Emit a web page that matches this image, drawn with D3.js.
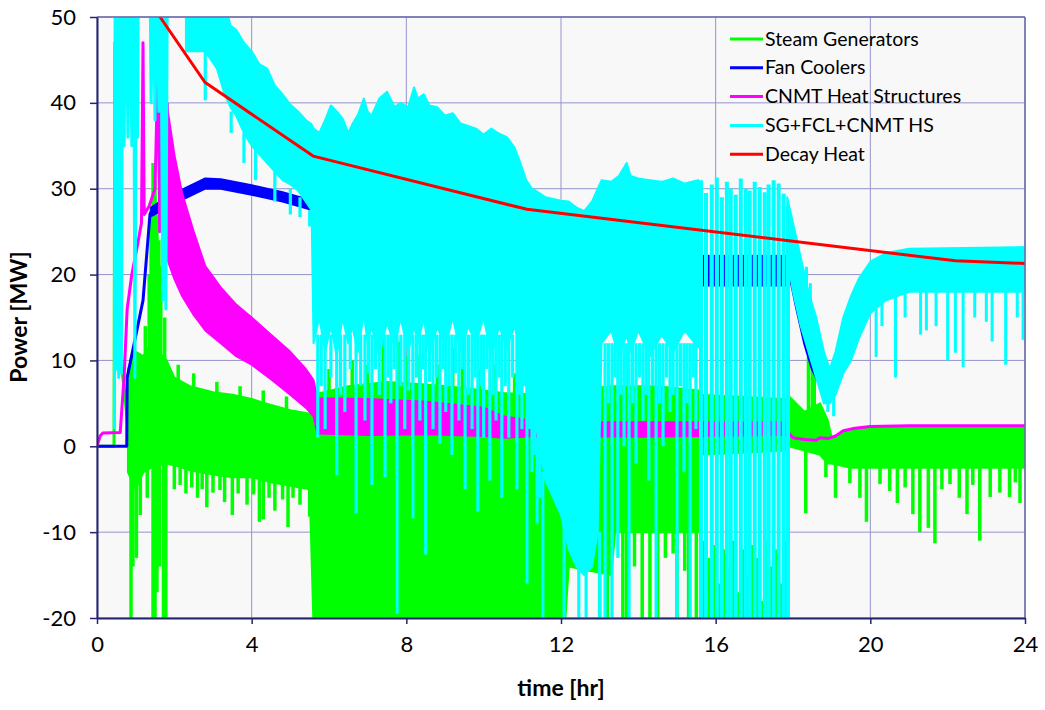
<!DOCTYPE html>
<html><head><meta charset="utf-8">
<script src="https://cdn.jsdelivr.net/npm/d3@7"></script>
<style>
body{margin:0;background:#fff;}
svg text{font-family:Lato,"Open Sans",sans-serif;fill:#000;}
</style></head>
<body><svg id="c" width="1045" height="710"></svg>
<script>
// ---------------- data ----------------
const timeTicks = [0, 4, 8, 12, 16, 20, 24];
const powerTicks = [-20, -10, 0, 10, 20, 30, 40, 50];
const seriesNames = ["Steam Generators", "Fan Coolers", "CNMT Heat Structures", "SG+FCL+CNMT HS", "Decay Heat"];

// Steam Generators (green)
const sgTrace = [[0,0],[0.44,0],[0.46,47],[0.48,9],[0.5,44],[0.52,9],[0.6,10],[0.7,7],[0.8,2]];
const sgBand = [[0.8,-3,9],[1.0,-5,11],[1.2,-3,10.5],[1.4,-2.5,12],[1.6,-2,11],[1.8,-2,10],[2.0,-2.2,8],[2.4,-2.8,7],[3.0,-3.3,6.3],[3.5,-3.6,6],[4.0,-3.6,5.5],[4.5,-4.2,4.8],[5.0,-4.6,4.2],[5.5,-5,3.8],[5.6,-21,6],[6.5,-21,7],[7.5,-21,7.5],[8.5,-21,7.2],[9.5,-21,6.8],[10.5,-21,6.2],[11.5,-21,6],[12.1,-21,6.5],[12.2,-14,6.5],[13.3,-15,7],[13.4,-10,7],[14.5,-10,7],[15.55,-10,6.5],[15.6,-1,6],[17.8,-0.5,5.5],[17.9,0,5.8],[18.3,-0.5,4],[18.7,-1,5],[18.9,-2,3],[19.0,-2,1],[19.5,-2.5,2.0],[20.0,-2.5,2.2],[24,-2.5,2.3]];
const sgSpikes = [
 [0.88,0,-21],[0.93,0,-14],[1.02,0,-13],[1.12,0,-8],[1.3,0,-6],[1.45,0,-21],[1.5,0,-21],[1.55,0,-17],[1.62,0,-14],[1.72,0,-21],[1.78,0,-21],
 [2.0,0,-5],[2.15,0,-4.5],[2.3,0,-5.5],[2.45,0,-4.8],[2.6,0,-6],[2.72,0,-5],[2.84,0,-7.1],[3.0,0,-5.4],[3.18,0,-5.1],[3.3,0,-6.5],[3.5,0,-8],[3.65,0,-5.5],[3.88,0,-6.8],[4.05,0,-5.6],[4.2,0,-8.8],[4.3,0,-8.5],[4.45,0,-6],[4.6,0,-7.5],[4.8,0,-6.2],[4.94,0,-9.4],[5.07,0,-6],[5.25,0,-6.8],[5.5,0,-8.2],
 [1.25,8,14],[1.35,8,20],[1.4,8,28],[1.45,8,33],[1.5,8,31],[1.55,8,27],[1.6,8,24],[1.65,8,21],[1.75,8,15],
 [2.1,6,9.5],[2.5,5,8.5],[3.1,5,7.5],[3.7,4,7],[4.3,4,6.5],[4.9,3,5.8],
 [6.0,5,9],[6.6,5,10],[7.0,5,9.5],[7.4,5,12.5],[7.8,5,12.2],[8.0,5,10.5],[8.35,5,10.6],[8.8,5,9.5],[9.2,5,11.5],[9.45,5,12],[9.9,5,9],[10.3,5,9.5],[10.8,5,8.5],[11.2,5,8],
 [13.0,-10,-21],[13.2,-10,-21],[13.6,-10,-21],[13.7,-10,-21],[13.9,-10,-14],[14.1,-10,-21],[14.3,-10,-21],[14.5,-10,-21],[14.7,-10,-13],[14.9,-10,-12.5],[15.0,-10,-21],[15.2,-10,-14.5],[15.3,-10,-21],[15.5,-10,-21],
 [15.68,-22,-11],[15.82,-22,-13],[15.96,-22,-11.5],[16.1,-22,-16],[16.22,-22,-12],[16.35,-22,-14],[16.46,-22,-11],[16.58,-22,-17],[16.72,-22,-12],[16.84,-22,-15],[16.95,-22,-11.5],[17.08,-22,-13],[17.2,-22,-18],[17.32,-22,-11],[17.44,-22,-14],[17.56,-22,-12],[17.7,-22,-16],[17.82,-22,-11],
 [18.33,0,-7.8],[18.4,4,10.4],[18.5,4,9.5],[18.55,4,8.5],[18.85,0,-3.6],
 [19.1,-2,-6],[19.47,-2,-4.3],[19.73,-2,-6],[19.9,-2,-8.8],[20.25,-2,-4.4],[20.5,-2,-5.2],[20.7,-2,-6.6],[20.9,-2,-4.8],[21.1,-2,-7.9],[21.28,-2,-10],[21.5,-2,-9.5],[21.67,-2,-11.3],[21.85,-2,-5],[22.06,-2,-4.4],[22.3,-2,-6],[22.5,-2,-7.9],[22.65,-2,-4.5],[22.83,-2,-11],[23.1,-2,-5.9],[23.35,-2,-5.4],[23.6,-2,-5.9],[23.75,-2,-4.2],[23.87,-2,-6.6]
];

// Fan Coolers (blue)
const fcTrace = [[0,0],[0.77,0],[0.78,8],[1.19,17],[1.37,27],[1.4,27.3]];
const fcBand = [[1.4,26.8,27.8],[1.7,27.5,28.7],[2.2,28.7,29.9],[2.8,30.0,31.2],[3.2,30.0,31.1],[4.0,29.3,30.4],[4.8,28.5,29.6],[5.5,27.6,28.7],[6.2,27.0,28.2]];
const fcHidden = [[6.2,27.6],[8,26.5],[10,25],[12,23.5],[14,22.5],[15.6,21.5]];
const fcTicks = [15.68,15.82,15.96,16.1,16.22,16.35,16.46,16.58,16.72,16.84,16.95,17.08,17.2,17.32,17.44,17.56,17.7,17.82];
const fcTickLo = 18.6, fcTickHi = 22.3;
const fcLate = [[17.85,21.5],[17.9,20.3],[18.1,16],[18.3,12],[18.5,9],[18.7,7.2],[18.8,6.4],[19.0,8.8],[19.3,12],[19.6,14.5],[20.0,15.8],[20.5,17.5],[21,18.2],[24,18.3]];

// CNMT Heat Structures (magenta)
const hsTrace = [[0,0],[0.08,1.2],[0.15,1.55],[0.6,1.6],[0.7,8],[0.78,16],[0.9,20],[1.05,23.5],[1.15,26],[1.19,47],[1.22,27],[1.35,28],[1.5,30],[1.58,45],[1.62,25],[1.68,44],[1.75,30],[1.82,40]];
const hsBand = [[1.8,22,40],[2.0,19.5,34],[2.2,17.5,29.5],[2.5,15.3,25],[2.8,13.5,21],[3.2,12,18.5],[3.6,10.5,16.5],[4.0,9.5,15],[4.5,7.8,13],[5.0,6,11],[5.4,4.5,9],[5.6,3.5,7.7],[5.7,1.5,5.6],[7,1.3,5.5],[8.5,1.4,5.2],[10,1.2,4.5],[10.5,1.0,3.5],[11.5,1.2,2.8],[14,1.1,2.8],[17.8,1.3,2.8]];
const hsLate = [[17.8,2.3],[17.9,1.5],[18.0,1.0],[18.3,0.8],[18.6,0.7],[18.7,1.0],[18.9,0.9],[19.1,1.2],[19.3,1.8],[19.6,2.1],[20,2.3],[21,2.4],[24,2.4]];

// SG+FCL+CNMT HS (cyan)
const sumEarly = [[0.45,2],[0.47,56],[0.5,9],[0.53,56],[0.56,8],[0.6,56],[0.63,8.5],[0.66,56],[0.7,35],[0.75,56],[0.8,36],[0.85,56],[0.9,35],[0.95,56],[0.98,8],[1.02,56],[1.05,36],[1.07,56],[1.37,56],[1.4,40],[1.45,56],[1.5,38],[1.55,56],[1.6,39],[1.65,56],[1.7,17],[1.74,56],[1.78,16],[1.82,56],[2.3,56]];
const sumBand = [[2.3,46,56],[2.8,46,56],[3.1,44,56],[3.3,41,52],[3.45,39.5,49],[3.6,38.5,48.5],[3.8,36.5,47],[4.0,35,46],[4.2,34,44.5],[4.4,33,44],[4.6,32,42],[4.8,31,41],[5.0,30.5,39.8],[5.2,29.8,39],[5.4,28.5,38],[5.55,27.5,37.5],
 [5.6,12,37],[5.75,15,36.5],[5.9,11,38],[6.05,14,39.7],[6.2,10.5,39],[6.35,15,38.2],[6.5,12,36.5],[6.6,14,37.5],[6.75,11,38.6],[6.9,15.5,40.5],[7.0,12,39],[7.1,14,38.5],[7.3,10.5,40.5],[7.5,14.5,41.3],[7.7,11.5,39.5],[7.85,15,40],[8.05,11,39.5],[8.2,14,41.8],[8.3,12,40.5],[8.45,15,41],[8.6,10.5,39.7],[8.8,14,39.5],[9.0,11.5,38.5],[9.2,15,38.8],[9.4,11,37.6],[9.6,14,37.3],[9.8,12,37],[10.0,15,36.3],[10.2,10.5,37],[10.4,14,36.4],[10.6,11.5,36],[10.8,14,34.8],[10.95,11,33],[11.1,9,31],[11.25,6,30],[11.4,1,29.6],[11.6,-4,29],[11.8,-6,28.8],[12.0,-8,28.6],[12.2,-12,28.5],[12.4,-14,27.8],[12.6,-15,27.4],[12.8,-14,28.5],[12.95,-10,30],
 [13.05,12,31],[13.3,13.5,30.8],[13.5,10.5,31.5],[13.7,13,33],[13.8,11,31.5],[14.0,13.5,31.2],[14.3,10.5,31],[14.6,13,30.8],[14.9,11,31.2],[15.2,13.5,30.6],[15.55,11.5,31]];
const sumSpikes = [
 [2.8,46,40.3],[3.47,39,36.5],[3.8,36.5,33],[4.1,35,31],[4.6,32,28.5],[5.0,30,27],[5.25,29,26.7],[5.5,27.5,25.6],
 [5.71,13,1],[5.8,13,7],[5.9,13,2],[6.05,13,8],[6.2,13,-3.4],[6.3,13,6],[6.41,13,4],[6.55,13,9],[6.7,13,-7.8],[6.82,13,7],[6.93,13,3],[7.02,13,8.5],[7.11,13,-4.5],[7.2,13,9],[7.3,13,6],[7.45,13,-3.6],[7.53,13,8],[7.6,13,5],[7.68,13,9],[7.76,13,-19.5],[7.86,13,7],[7.96,13,2],[8.06,13,6.5],[8.17,13,-8.4],[8.26,13,8],[8.35,13,3],[8.43,13,9],[8.5,13,-12.6],[8.6,13,7.5],[8.69,13,2],[8.78,13,8],[8.87,13,0.3],[8.95,13,9],[9.02,13,4],[9.1,13,7],[9.18,13,-1],[9.27,13,8.5],[9.36,13,3],[9.44,13,9],[9.52,13,-5],[9.61,13,6],[9.7,13,2],[9.78,13,8],[9.85,13,-7.6],[9.93,13,7],[10.0,13,1],[10.08,13,9],[10.16,13,-4],[10.24,13,6],[10.32,13,3],[10.4,13,8],[10.47,13,-6],[10.56,13,7],[10.65,13,1],[10.75,13,8],[10.86,13,-5],[10.93,13,6],[10.99,13,2],[11.06,13,7],[11.12,13,-16],[11.19,10,2],[11.25,6,-3],[11.32,4,-1],[11.38,1,-9],[11.45,0,-6],[11.53,-3,-21],
 [12.08,-8,-21],[12.46,-14,-21],[12.65,-14,-21],[13.0,-10,-21],
 [13.14,12,-21],[13.23,12,5],[13.32,12,-21],[13.4,12,8],[13.47,12,-13],[13.55,12,6],[13.63,12,0],[13.7,12,7],[13.76,12,-21],[13.85,12,5],[13.94,12,-2],[14.03,12,8],[14.12,12,3],[14.2,12,6],[14.27,12,-4],[14.37,12,7],[14.46,12,-21],[14.55,12,5],[14.64,12,0],[14.73,12,8],[14.82,12,4],[14.9,12,6],[15.0,12,-21],[15.09,12,7],[15.18,12,-3],[15.26,12,5],[15.34,12,-21],[15.42,12,8],[15.49,12,2]
];
const sumColumns = [[15.62,31],[15.75,29.5],[15.9,30.5],[16.03,31.3],[16.16,29],[16.29,30.8],[16.39,30],[16.52,29.3],[16.65,31.2],[16.78,30],[16.88,29.8],[17.01,30.8],[17.14,30.2],[17.27,29.6],[17.37,30.5],[17.5,31],[17.63,30.6],[17.76,29.4],[17.87,28]];
const sumLate = [[17.85,22,29],[18.0,18,26],[18.2,14,22],[18.4,11,18],[18.6,8,15],[18.8,5,11],[18.95,5,9],[19.1,6,11],[19.3,8.5,15],[19.5,10,17.5],[19.7,12.5,19.5],[20.0,15.5,21.5],[20.4,17,22.5],[21,18,23],[24,18,23.2]];
const sumLateSpikes = [[18.35,18,20.9],[18.45,15,19],[18.9,9,4],[19.05,7,3.5],[20.15,16,10.4],[20.3,17,14],[20.65,17.5,8],[20.9,18,15],[21.3,18,13],[21.45,18,13.5],[21.7,18,14],[22.0,18,10],[22.2,18,10.9],[22.4,18,9.2],[22.7,18,15],[23.0,18,14.5],[23.15,18,12.2],[23.5,18,9.5],[23.8,18,15],[23.95,18,12.4]];

// Decay Heat (red)
const decayHeat = [[1.0,54],[1.63,50],[2.79,42.4],[5.59,33.8],[11.12,27.6],[22.2,21.6],[24,21.3]];

// ---------------- drawing ----------------
const colors = ["#00ff00", "#0000ff", "#ff00ff", "#00ffff", "#ff0000"];
const svg = d3.select("#c");
const X0 = 97, X1 = 1025, Y0 = 17, Y1 = 618;
const x = d3.scaleLinear().domain([0, 24]).range([X0, X1]);
const y = d3.scaleLinear().domain([-20, 50]).range([Y1, Y0]);

svg.append("rect").attr("x", X0).attr("y", Y0).attr("width", X1 - X0).attr("height", Y1 - Y0).attr("fill", "#f8f8f8");
svg.append("defs").append("clipPath").attr("id", "clip").append("rect")
  .attr("x", X0).attr("y", Y0).attr("width", X1 - X0).attr("height", Y1 - Y0);

// grid
const grid = svg.append("g");
grid.selectAll(".gx").data(timeTicks).join("line")
  .attr("x1", d => x(d)).attr("x2", d => x(d)).attr("y1", Y0).attr("y2", Y1)
  .attr("stroke", "#9494cc").attr("stroke-width", 1);
grid.selectAll(".gy").data(powerTicks).join("line")
  .attr("x1", X0).attr("x2", X1).attr("y1", d => y(d)).attr("y2", d => y(d))
  .attr("stroke", "#9494cc").attr("stroke-width", 1);

const plot = svg.append("g").attr("clip-path", "url(#clip)");
const line = d3.line().x(d => x(d[0])).y(d => y(d[1]));
const area = d3.area().x(d => x(d[0])).y0(d => y(d[1])).y1(d => y(d[2]));

function trace(data, color, w) {
  plot.append("path").datum(data).attr("d", line).attr("fill", "none")
    .attr("stroke", color).attr("stroke-width", w).attr("stroke-linejoin", "round");
}
function band(data, color) {
  plot.append("path").datum(data).attr("d", area).attr("fill", color)
    .attr("stroke", color).attr("stroke-width", 2).attr("stroke-linejoin", "round");
}
function spikes(data, color, w) {
  plot.append("g").selectAll("line").data(data).join("line")
    .attr("x1", d => x(d[0])).attr("x2", d => x(d[0]))
    .attr("y1", d => y(d[1])).attr("y2", d => y(d[2]))
    .attr("stroke", color).attr("stroke-width", w);
}

// Steam Generators
trace(sgTrace, colors[0], 3);
band(sgBand, colors[0]);
spikes(sgSpikes, colors[0], 3.5);
// Fan Coolers
trace(fcTrace, colors[1], 3);
band(fcBand, colors[1]);
trace(fcHidden, colors[1], 3);
spikes(fcTicks.map(t => [t, fcTickLo, fcTickHi]), colors[1], 2);
trace(fcLate, colors[1], 3);
// CNMT HS
trace(hsTrace, colors[2], 3);
band(hsBand, colors[2]);
trace(hsLate, colors[2], 3);
// Sum
trace(sumEarly, colors[3], 3);
band(sumBand, colors[3]);
spikes(sumSpikes, colors[3], 3.2);
spikes(sumColumns.map(d => [d[0], -22, d[1]]), colors[3], 4);
band(sumLate, colors[3]);
spikes(sumLateSpikes, colors[3], 3);
// Decay heat
trace(decayHeat, colors[4], 3);

// frame
svg.append("line").attr("x1", X0).attr("x2", X1).attr("y1", Y0).attr("y2", Y0).attr("stroke", "#6a6aa8").attr("stroke-width", 1.5);
svg.append("line").attr("x1", X1).attr("x2", X1).attr("y1", Y0).attr("y2", Y1).attr("stroke", "#6a6aa8").attr("stroke-width", 1.5);

// axes
const ya = svg.append("g").attr("transform", `translate(${X0},0)`)
  .call(d3.axisLeft(y).tickValues(powerTicks).tickFormat(d => String(d)).tickSize(7).tickPadding(14).tickSizeOuter(0));
const xa = svg.append("g").attr("transform", `translate(0,${Y1})`)
  .call(d3.axisBottom(x).tickValues(timeTicks).tickFormat(d => String(d)).tickSize(6).tickPadding(12).tickSizeOuter(0));
[ya, xa].forEach(a => {
  a.select(".domain").attr("stroke", "#25256e").attr("stroke-width", 2);
  a.selectAll(".tick line").attr("stroke", "#25256e").attr("stroke-width", 1.5);
  a.selectAll("text").attr("font-size", 22).attr("font-family", "Lato, sans-serif").attr("fill", "#000");
});

svg.append("text").attr("x", 561).attr("y", 696).attr("text-anchor", "middle")
  .attr("font-size", 23).attr("font-weight", "bold").text("time [hr]");
svg.append("text").attr("transform", "translate(27,317) rotate(-90)").attr("text-anchor", "middle")
  .attr("font-size", 23).attr("font-weight", "bold").text("Power [MW]");

// legend
const lg = svg.append("g");
seriesNames.forEach((n, i) => {
  const yy = 39 + i * 28.8;
  lg.append("line").attr("x1", 730).attr("x2", 763).attr("y1", yy).attr("y2", yy)
    .attr("stroke", colors[i]).attr("stroke-width", 3);
  lg.append("text").attr("x", 765).attr("y", yy + 6.5).attr("font-size", 19.5).text(n);
});
</script></body></html>
